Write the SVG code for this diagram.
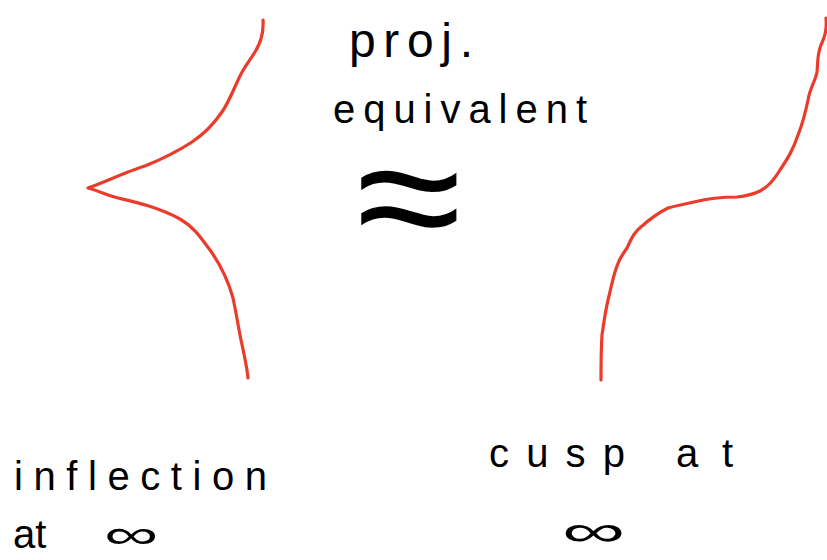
<svg xmlns="http://www.w3.org/2000/svg" width="827" height="560" viewBox="0 0 827 560">
  <style>
    .curve { fill: none; stroke: #ea3b2b; stroke-width: 3.2; stroke-linecap: round; stroke-linejoin: round; }
    .label { font-family: "Liberation Sans", "DejaVu Sans", sans-serif; fill: #000; }
  </style>
  <rect width="827" height="560" fill="#fff"/>

  <!-- left: cusp-shaped curve -->
  <g id="left-curve">
    <path class="curve" d="M263,20 C264,35 258,48 253,55 C248,63 244,68 240,76 C234,88 230,100 222,112 C213,125 204,134 192,142 C175,153 160,160 145,166 C128,171 105,182 88,188 C100,191 105,195 118,198 C135,202 158,207 180,219 C194,227 201,238 210,250 C220,264 228,280 233,298 C236,312 238,325 241,340 C245,358 247,368 248,378"/>
  </g>

  <!-- right: inflection-shaped curve -->
  <g id="right-curve">
    <path class="curve" d="M826,18 C827,30 825,36 821,45 C817,55 818,62 817,72 C815,82 810,88 808,100 C805,115 802,125 798,135 C793,150 788,158 780,170 C774,180 768,187 760,191 C752,195 746,196 737,197 C720,197 706,199 694,202 C682,205 678,205 668,208 C656,214 650,219 642,226 C633,233 631,240 627,248 C620,258 618,262 615,272 C612,282 611,288 608,300 C605,313 604,322 602,335 C601,350 601,365 601,380"/>
  </g>

  <!-- centre caption -->
  <g id="equivalence">
    <text class="label" x="349" y="57" font-size="48" textLength="124" lengthAdjust="spacing">proj.</text>
    <text class="label" x="333" y="123" font-size="40" textLength="254" lengthAdjust="spacing">equivalent</text>
    <text class="label" x="356" y="256" font-size="110" transform="translate(356 256) scale(1.75 1.57) translate(-356 -256)">≈</text>
  </g>

  <!-- bottom captions -->
  <g id="left-caption">
    <text class="label" x="14" y="490" font-size="40" textLength="253" lengthAdjust="spacing">inflection</text>
    <text class="label" x="13" y="548" font-size="40">at</text>
    <text class="label" x="104" y="548" font-size="40" transform="translate(104 548) scale(1.9 1) translate(-104 -548)">∞</text>
  </g>
  <g id="right-caption">
    <text class="label" x="489" y="467" font-size="40" textLength="136" lengthAdjust="spacing">cusp</text>
    <text class="label" x="676" y="467" font-size="40" textLength="57" lengthAdjust="spacing">at</text>
    <text class="label" x="562" y="546" font-size="44" transform="translate(562 546) scale(2 1) translate(-562 -546)">∞</text>
  </g>
</svg>
